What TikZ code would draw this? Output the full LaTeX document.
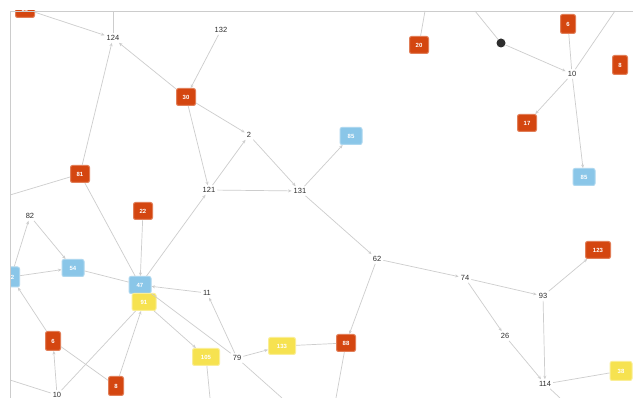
\documentclass[tikz,border=0pt]{standalone}
\usepackage{fontspec}
\setmainfont{Liberation Sans}
\usetikzlibrary{arrows.meta}
\definecolor{eorange}{RGB}{212,70,16}
\definecolor{eblue}{RGB}{138,198,232}
\definecolor{eyellow}{RGB}{246,226,80}
\definecolor{edgec}{RGB}{205,205,205}
\definecolor{labc}{RGB}{45,45,45}
\tikzset{
  ob/.style={rectangle, rounded corners=2pt, fill=eorange, draw=eorange!70!white, line width=1pt, text=white, font=\fontsize{6}{6}\selectfont\bfseries, minimum width=19pt, minimum height=17pt, inner sep=1pt},
  obs/.style={ob, minimum width=15pt, minimum height=19pt},
  bb/.style={rectangle, rounded corners=2pt, fill=eblue, draw=eblue!70!white, line width=1pt, text=white, font=\fontsize{6}{6}\selectfont\bfseries, minimum width=22pt, minimum height=17pt, inner sep=1pt},
  yb/.style={rectangle, rounded corners=2pt, fill=eyellow, draw=eyellow!60!white, line width=1pt, text=white, font=\fontsize{6}{6}\selectfont\bfseries, minimum width=27pt, minimum height=17pt, inner sep=1pt},
  tl/.style={text=labc, font=\fontsize{7.5}{7.5}\selectfont, inner sep=2pt},
  ed/.style={draw=edgec, line width=0.7pt},
  ar/.style={ed, -{Stealth[length=3.5pt,width=3pt]}},
}
\begin{document}
\begin{tikzpicture}[x=1pt,y=-1pt]
\useasboundingbox (0,0) rectangle (633,398);
\fill[white] (0,0) rectangle (633,398);
\begin{scope}
\clip (10,11) rectangle (633,398);
% nodes
\node[ob] (tlo) at (25,9) {50};
\node[tl] (n124) at (113,38) {124};
\node[tl] (n132) at (221,30) {132};
\node[ob] (n30) at (186,97) {30};
\node[tl] (n2) at (249,135) {2};
\node[tl] (n121) at (209,190) {121};
\node[tl] (n131) at (300,191) {131};
\node[bb] (n85a) at (351,136) {85};
\node[ob] (n81) at (80,174) {81};
\node[tl] (n82) at (30,216) {82};
\node[ob] (n22) at (143,211) {22};
\node[bb] (n54) at (73,268) {54};
\node[bb, minimum width=17pt, minimum height=20pt] (nbl) at (11,277) {72};
\node[bb] (n47) at (140,285) {47};
\node[yb, minimum width=24pt] (n91) at (144,302) {91};
\node[tl] (n11) at (207,293) {11};
\node[obs] (n6a) at (53,341) {6};
\node[obs] (n8a) at (116,386) {8};
\node[tl] (n10a) at (57,395) {10};
\node[yb] (n105) at (206,357) {105};
\node[tl] (n79) at (237,358) {79};
\node[yb] (n133) at (282,346) {133};
\node[ob] (n88) at (346,343) {88};
\node[tl] (n62) at (377,259) {62};
\node[tl] (n74) at (465,278) {74};
\node[tl] (n93) at (543,296) {93};
\node[tl] (n26) at (505,336) {26};
\node[tl] (n114) at (545,384) {114};
\node[ob, minimum width=25pt] (n123) at (598,250) {123};
\node[yb, minimum width=22pt, minimum height=19pt] (n38) at (621,371) {38};
\node[ob] (n20) at (419,45) {20};
\node[circle, fill=labc, minimum size=9pt, inner sep=0pt] (dk) at (501,43) {};
\node[obs] (n6b) at (568,24) {6};
\node[tl] (n10b) at (572,74) {10};
\node[obs] (n8b) at (620,65) {8};
\node[ob] (n17) at (527,123) {17};
\node[bb] (n85b) at (584,177) {85};
% free ends
\coordinate (c1) at (113,11);
\coordinate (c2) at (10,195);
\coordinate (c3) at (10,380);
\coordinate (c4) at (210,398);
\coordinate (c5) at (282,398);
\coordinate (c6) at (336,398);
\coordinate (c7) at (425,11);
\coordinate (c8) at (475,11);
\coordinate (c9) at (615,11);
\coordinate (c10) at (560,398);
% edges
\draw[ar] (tlo) -- (n124);
\draw[ed] (n124) -- (c1);
\draw[ar] (n30) -- (n124);
\draw[ar] (n81) -- (n124);
\draw[ar] (n132) -- (n30);
\draw[ar] (n30) -- (n2);
\draw[ar] (n2) -- (n131);
\draw[ar] (n121) -- (n2);
\draw[ar] (n30) -- (n121);
\draw[ar] (n121) -- (n131);
\draw[ar] (n131) -- (n85a);
\draw[ar] (n131) -- (n62);
\draw[ar] (n62) -- (n74);
\draw[ar] (n74) -- (n93);
\draw[ar] (n74) -- (n26);
\draw[ar] (n93) -- (n123);
\draw[ar] (n93) -- (n114);
\draw[ar] (n26) -- (n114);
\draw[ed] (n114) -- (n38);
\draw[ed] (n114) -- (c10);
\draw[ar] (n62) -- (n88);
\draw[ed] (n88) -- (c6);
\draw[ed] (n133) -- (n88);
\draw[ar] (n79) -- (n133);
\draw[ed] (n79) -- (c5);
\draw[ed] (n105) -- (c4);
\draw[ar] (n79) -- (n11);
\draw[ar] (n11) -- (n47);
\draw[ar] (n91) -- (n105);
\draw[ed] (n47) -- (n79);
\draw[ar] (n47) -- (n121);
\draw[ar] (n22) -- (n47);
\draw[ed] (n81) -- (n47);
\draw[ed] (n54) -- (n47);
\draw[ar] (n82) -- (n54);
\draw[ar] (nbl) -- (n82);
\draw[ar] (nbl) -- (n54);
\draw[ar] (n6a) -- (nbl);
\draw[ar] (n10a) -- (n6a);
\draw[ed] (n10a) -- (n91);
\draw[ar] (n8a) -- (n91);
\draw[ed] (n6a) -- (n8a);
\draw[ed] (c3) -- (n10a);
\draw[ed] (c2) -- (n81);
\draw[ed] (n20) -- (c7);
\draw[ed] (c8) -- (dk);
\draw[ar] (dk) -- (n10b);
\draw[ed] (n6b) -- (n10b);
\draw[ed] (n10b) -- (c9);
\draw[ar] (n10b) -- (n17);
\draw[ar] (n10b) -- (n85b);
\end{scope}
\draw[gray!40, line width=0.8pt] (10,398) -- (10,11) -- (633,11);
\end{tikzpicture}
\end{document}
